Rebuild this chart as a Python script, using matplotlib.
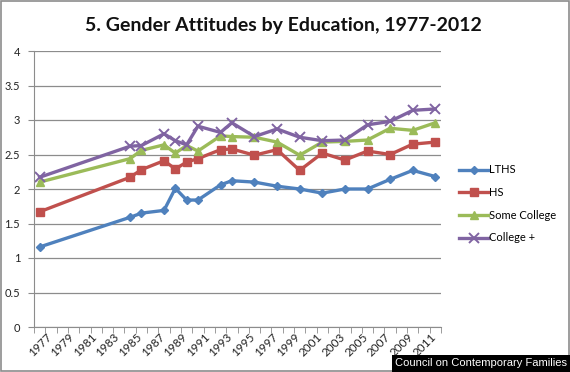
import numpy as np
import matplotlib
matplotlib.use("Agg")
import matplotlib.pyplot as plt
import matplotlib.transforms as mtrans
from matplotlib.patches import Rectangle

plt.rcParams['font.family'] = ['Lato', 'DejaVu Sans']

years = [1977, 1985, 1986, 1988, 1989, 1990, 1991, 1993, 1994, 1996,
         1998, 2000, 2002, 2004, 2006, 2008, 2010, 2012]

lths = [1.16, 1.59, 1.65, 1.69, 2.01, 1.84, 1.84, 2.06, 2.12, 2.10,
        2.04, 2.00, 1.94, 2.00, 2.00, 2.14, 2.27, 2.18]
hs = [1.67, 2.17, 2.28, 2.41, 2.29, 2.39, 2.44, 2.57, 2.58, 2.49,
      2.57, 2.27, 2.52, 2.42, 2.55, 2.50, 2.65, 2.68]
some_college = [2.10, 2.44, 2.56, 2.64, 2.52, 2.63, 2.55, 2.77, 2.76, 2.75,
                2.68, 2.49, 2.68, 2.69, 2.71, 2.88, 2.85, 2.96]
college_plus = [2.17, 2.62, 2.63, 2.80, 2.70, 2.64, 2.91, 2.82, 2.96, 2.76,
                2.87, 2.75, 2.70, 2.71, 2.93, 2.98, 3.14, 3.16]

series = [
    ("LTHS", lths, "#4F81BD", "D", 4.5),
    ("HS", hs, "#C0504D", "s", 6),
    ("Some College", some_college, "#9BBB59", "^", 6),
    ("College +", college_plus, "#8064A2", "x", 6.5),
]

tick_years = list(range(1977, 2012, 2))

fig = plt.figure(figsize=(5.7, 3.72), dpi=100)
ax = fig.add_axes([34 / 570, 1 - 327 / 372, 407 / 570, 276 / 372])

for name, vals, color, marker, ms in series:
    ax.plot(years, vals, color=color, lw=2.4, marker=marker, ms=ms,
            mew=1.4 if marker == "x" else 1, label=name)

ax.set_ylim(0, 4)
ax.set_yticks(np.arange(0, 4.01, 0.5))
ax.set_yticklabels(["0", "0.5", "1", "1.5", "2", "2.5", "3", "3.5", "4"])
ax.yaxis.grid(True, color="#8c8c8c", lw=0.9)
ax.set_axisbelow(True)

ax.set_xlim(1976.5, 2012.5)
ax.set_xticks(tick_years)
ax.set_xticklabels([str(y) for y in tick_years], rotation=45, ha="right",
                   rotation_mode="anchor")
ax.set_xticks(np.arange(1976.5, 2013, 1), minor=True)
ax.tick_params(axis="x", which="major", length=0, pad=3, labelsize=8.5, colors="#222222")
ax.tick_params(axis="x", which="minor", length=4, color="#8c8c8c")
ax.tick_params(axis="y", length=4, color="#8c8c8c", labelsize=8, colors="#222222", pad=6)

# shift the rotated year labels a little to the right, like Excel does
shift = mtrans.ScaledTranslation(6 / 100, 0, fig.dpi_scale_trans)
for lbl in ax.get_xticklabels():
    lbl.set_transform(lbl.get_transform() + shift)

for s in ["top", "right"]:
    ax.spines[s].set_visible(False)
for s in ["left", "bottom"]:
    ax.spines[s].set_color("#8c8c8c")

fig.text(0.497, 0.932, "5. Gender Attitudes by Education, 1977-2012",
         ha="center", va="center", fontsize=14, fontweight="bold", color="#111111")

fig.legend(loc="upper left", bbox_to_anchor=(455 / 570, 1 - 160 / 372),
           frameon=False, fontsize=8, handlelength=2.6, labelspacing=1.05,
           handletextpad=0.1, borderaxespad=0)

fig.patches.append(Rectangle((0.002, 0.002), 0.996, 0.996, transform=fig.transFigure,
                             fill=False, edgecolor="#8c8c8c", lw=1.2))

fig.text(0.995, 0.01, "Council on Contemporary Families", ha="right", va="bottom",
         fontsize=8, color="white", family=["Liberation Sans", "DejaVu Sans"],
         bbox=dict(facecolor="black", edgecolor="none", pad=2.5))

fig.savefig("out.png", dpi=100)
